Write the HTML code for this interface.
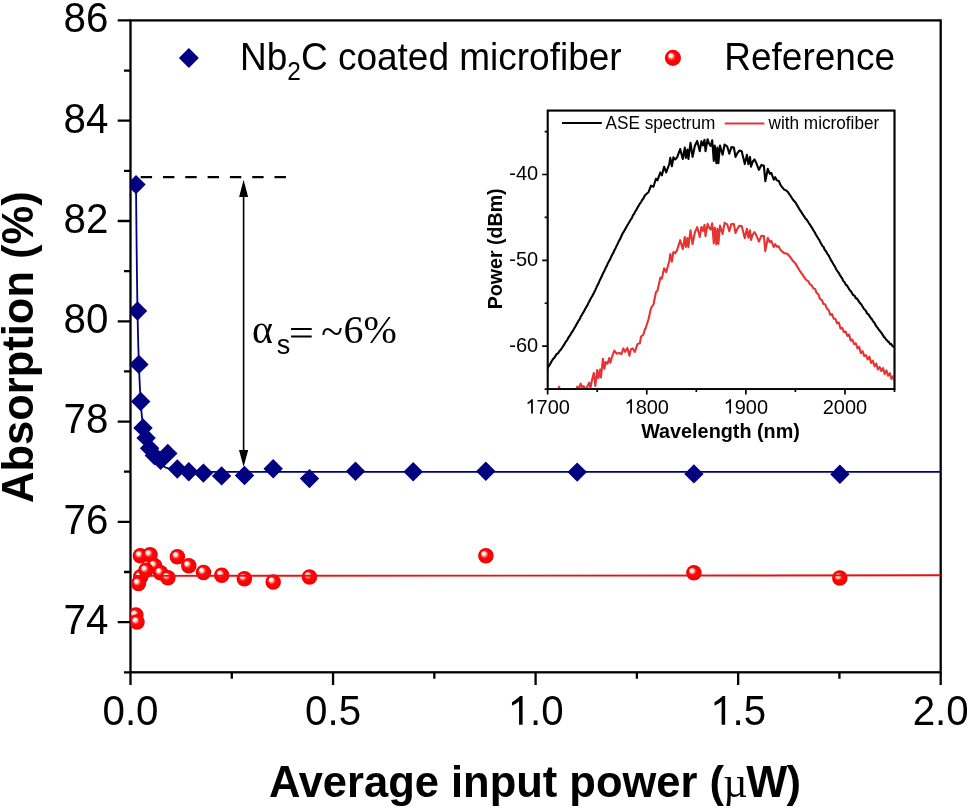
<!DOCTYPE html><html><head><meta charset="utf-8"><style>html,body{margin:0;padding:0;background:#fff;}svg{display:block;will-change:transform;}text{font-family:"Liberation Sans",sans-serif;}.serif{font-family:"Liberation Serif",serif;}</style></head><body>
<svg width="967" height="808" viewBox="0 0 967 808">
<defs><radialGradient id="sph" cx="0.5" cy="0.5" r="0.5" fx="0.32" fy="0.31"><stop offset="0" stop-color="#ffffff"/><stop offset="0.2" stop-color="#fff4f4"/><stop offset="0.36" stop-color="#ff7070"/><stop offset="0.5" stop-color="#ff0808"/><stop offset="0.9" stop-color="#f80000"/><stop offset="1" stop-color="#ee0000"/></radialGradient><clipPath id="pclip"><rect x="130.5" y="20.4" width="810.2" height="651.9"/></clipPath><clipPath id="iclip"><rect x="547.7" y="110.5" width="346.9" height="278.6"/></clipPath></defs>
<rect width="967" height="808" fill="#fff"/>
<rect x="130.50" y="20.40" width="810.20" height="651.90" fill="none" stroke="#000" stroke-width="2.3"/>
<path d="M117.70 622.15H130.50M124.00 572.01H130.50M117.70 521.86H130.50M124.00 471.71H130.50M117.70 421.57H130.50M124.00 371.42H130.50M117.70 321.28H130.50M124.00 271.13H130.50M117.70 220.98H130.50M124.00 170.84H130.50M117.70 120.69H130.50M124.00 70.55H130.50M117.70 20.40H130.50M124.00 672.30H130.50M130.50 672.30V685.10M231.78 672.30V678.80M333.05 672.30V685.10M434.33 672.30V678.80M535.60 672.30V685.10M636.88 672.30V678.80M738.15 672.30V685.10M839.43 672.30V678.80M940.70 672.30V685.10" stroke="#000" stroke-width="2.3" fill="none"/>
<text transform="translate(63.47,634.05) scale(1,1.040)" font-size="40.30">74</text>
<text transform="translate(63.47,533.76) scale(1,1.040)" font-size="40.30">76</text>
<text transform="translate(63.47,433.47) scale(1,1.040)" font-size="40.30">78</text>
<text transform="translate(63.47,333.18) scale(1,1.040)" font-size="40.30">80</text>
<text transform="translate(63.47,232.88) scale(1,1.040)" font-size="40.30">82</text>
<text transform="translate(63.47,132.59) scale(1,1.040)" font-size="40.30">84</text>
<text transform="translate(63.47,32.30) scale(1,1.040)" font-size="40.30">86</text>
<text transform="translate(102.49,724.80) scale(1,1.040)" font-size="40.30">0.0</text>
<text transform="translate(305.04,724.80) scale(1,1.040)" font-size="40.30">0.5</text>
<text transform="translate(507.59,724.80) scale(1,1.040)" font-size="40.30">&#8199;.0</text>
<path transform="translate(507.59,724.80) scale(0.01968,-0.02046)" d="M763 0L583 0L583 1147Q518 1085 413 1024Q308 962 223 932L223 1106Q368 1174 477 1271Q586 1368 631 1409L763 1409Z"/>
<text transform="translate(710.14,724.80) scale(1,1.040)" font-size="40.30">&#8199;.5</text>
<path transform="translate(710.14,724.80) scale(0.01968,-0.02046)" d="M763 0L583 0L583 1147Q518 1085 413 1024Q308 962 223 932L223 1106Q368 1174 477 1271Q586 1368 631 1409L763 1409Z"/>
<text transform="translate(912.69,724.80) scale(1,1.040)" font-size="40.30">2.0</text>
<text transform="translate(268.90,796.60) scale(1,1.030)" font-size="43.5" font-weight="bold">Average input power (<tspan class="serif" font-weight="normal" font-size="42" dx="-0.6">&#181;</tspan><tspan dx="-1.2">W</tspan><tspan dx="-0.8">)</tspan></text>
<text transform="translate(33.30,347.10) rotate(-90) scale(1,1.030)" font-size="43.5" font-weight="bold" text-anchor="middle">Absorption (%)</text>
<path d="M188.90 48.00L198.90 58.00L188.90 68.00L178.90 58.00Z" fill="#000080"/>
<text transform="translate(240.00,70.40) scale(1,1.030)" font-size="37">Nb<tspan font-size="24.5" dy="9.5">2</tspan><tspan dy="-9.5">C coated microfiber</tspan></text>
<circle cx="672.9" cy="57.9" r="8.05" fill="url(#sph)"/>
<text transform="translate(724.30,70.40) scale(1,1.030)" font-size="37">Reference</text>
<polyline points="136.00,184.60 136.25,210.92 136.50,235.59 136.75,258.27 137.00,278.62 137.25,296.31 137.50,311.00 137.75,323.33 138.00,334.26 138.25,343.95 138.50,352.55 138.75,360.20 139.00,367.07 139.25,373.39 139.50,379.24 139.75,384.64 140.00,389.61 140.25,394.19 140.50,398.39 140.75,402.25 141.00,405.86 141.25,409.22 141.50,412.27 141.75,414.95 142.00,417.20 142.25,419.15 142.50,420.98 142.75,422.70 143.00,424.31 143.25,425.83 143.50,427.24 143.75,428.57 144.00,429.80 144.25,430.96 144.50,432.04 144.75,433.05 145.00,434.00 145.25,434.90 145.50,435.75 145.75,436.58 146.00,437.37 146.25,438.12 146.50,438.85 146.75,439.55 147.00,440.23 147.25,440.88 147.50,441.50 147.75,442.11 148.00,442.70 148.25,443.28 148.50,443.83 148.75,444.38 149.00,444.92 149.25,445.45 149.50,445.97 149.75,446.49 150.00,447.00 150.25,447.51 150.50,448.01 150.75,448.50 151.00,448.97 151.25,449.44 151.50,449.90 151.75,450.35 152.00,450.80 152.25,451.23 152.50,451.66 152.75,452.07 153.00,452.48 153.25,452.88 153.50,453.28 153.75,453.66 154.00,454.04 154.25,454.42 154.50,454.78 154.75,455.15 155.00,455.50 155.25,455.85 155.50,456.19 155.75,456.52 156.00,456.84 156.25,457.16 156.50,457.47 156.75,457.77 157.00,458.07 157.25,458.36 157.50,458.66 157.75,458.94 158.00,459.23 158.25,459.51 158.50,459.80 158.75,460.08 159.00,460.36 159.25,460.64 159.50,460.93 159.75,461.21 160.00,461.50 160.25,461.80 160.50,462.10 160.75,462.42 161.00,462.74 161.25,463.07 161.50,463.40 161.75,463.73 162.00,464.06 162.25,464.38 162.50,464.70 162.75,465.01 163.00,465.31 163.25,465.60 163.50,465.87 163.75,466.13 164.00,466.37 164.25,466.59 164.50,466.78 164.75,466.96 165.00,467.10 165.25,467.23 165.50,467.35 165.75,467.47 166.00,467.58 166.25,467.68 166.50,467.78 166.75,467.88 167.00,467.97 167.25,468.06 167.50,468.14 167.75,468.22 168.00,468.30 168.25,468.37 168.50,468.44 168.75,468.50 169.00,468.57 169.25,468.63 169.50,468.69 169.75,468.74 170.00,468.80 170.25,468.85 170.50,468.91 170.75,468.96 171.00,469.01 171.25,469.06 171.50,469.11 171.75,469.15 172.00,469.20 172.25,469.25 172.50,469.29 172.75,469.34 173.00,469.38 173.25,469.42 173.50,469.46 173.75,469.50 174.00,469.54 174.25,469.58 174.50,469.62 174.75,469.65 175.00,469.69 175.25,469.73 175.50,469.76 175.75,469.80 176.00,469.83 176.25,469.86 176.50,469.90 176.75,469.93 177.00,469.96 177.25,469.99 177.50,470.02 177.75,470.05 178.00,470.08 178.25,470.11 178.50,470.14 178.75,470.17 179.00,470.19 179.25,470.22 179.50,470.25 179.75,470.27 180.00,470.30 180.25,470.33 180.50,470.35 180.75,470.38 181.00,470.40 181.25,470.43 181.50,470.45 181.75,470.48 182.00,470.50 182.25,470.52 182.50,470.55 182.75,470.57 183.00,470.59 183.25,470.62 183.50,470.64 183.75,470.66 184.00,470.68 184.25,470.70 184.50,470.72 184.75,470.74 185.00,470.76 185.25,470.78 185.50,470.80 185.75,470.82 186.00,470.84 186.25,470.86 186.50,470.88 186.75,470.90 187.00,470.91 187.25,470.93 187.50,470.95 187.75,470.97 188.00,470.98 188.25,471.00 188.50,471.01 188.75,471.03 189.00,471.04 189.25,471.06 189.50,471.07 189.75,471.09 190.00,471.10 190.25,471.11 190.50,471.13 190.75,471.14 191.00,471.15 191.25,471.16 191.50,471.18 191.75,471.19 192.00,471.20 192.25,471.21 192.50,471.22 192.75,471.23 193.00,471.25 193.25,471.26 193.50,471.27 193.75,471.28 194.00,471.29 194.25,471.30 194.50,471.31 194.75,471.32 195.00,471.33 195.25,471.34 195.50,471.35 195.75,471.36 196.00,471.37 196.25,471.38 196.50,471.39 196.75,471.39 197.00,471.40 197.25,471.41 197.50,471.42 197.75,471.43 198.00,471.44 198.25,471.45 198.50,471.45 198.75,471.46 199.00,471.47 199.25,471.48 199.50,471.49 199.75,471.49 200.00,471.50 200.25,471.51 200.50,471.51 200.75,471.52 201.00,471.53 201.25,471.54 201.50,471.55 201.75,471.55 202.00,471.56 202.25,471.57 202.50,471.58 202.75,471.58 203.00,471.59 203.25,471.60 203.50,471.61 203.75,471.61 204.00,471.62 204.25,471.63 204.50,471.64 204.75,471.64 205.00,471.65 205.25,471.66 205.50,471.67 205.75,471.67 206.00,471.68 206.25,471.69 206.50,471.69 206.75,471.70 207.00,471.71 207.25,471.71 207.50,471.72 207.75,471.72 208.00,471.73 208.25,471.74 208.50,471.74 208.75,471.75 209.00,471.75 209.25,471.76 209.50,471.76 209.75,471.77 210.00,471.77 210.25,471.77 210.50,471.78 210.75,471.78 211.00,471.78 211.25,471.79 211.50,471.79 211.75,471.79 212.00,471.79 212.25,471.80 212.50,471.80 212.75,471.80 213.00,471.80 213.25,471.80 213.50,471.80 213.75,471.80 214.00,471.80 214.25,471.80 214.50,471.80 214.75,471.80 215.00,471.81 215.25,471.81 215.50,471.81 215.75,471.81 216.00,471.81 216.25,471.81 216.50,471.81 216.75,471.81 217.00,471.81 217.25,471.81 217.50,471.81 217.75,471.81 218.00,471.81 218.25,471.81 218.50,471.81 218.75,471.82 219.00,471.82 219.25,471.82 219.50,471.82 219.75,471.82 220.00,471.82 220.25,471.82 220.50,471.82 220.75,471.82 221.00,471.82 221.25,471.82 221.50,471.82 221.75,471.82 222.00,471.82 222.25,471.82 222.50,471.82 222.75,471.83 223.00,471.83 223.25,471.83 223.50,471.83 223.75,471.83 224.00,471.83 224.25,471.83 224.50,471.83 224.75,471.83 225.00,471.83 225.25,471.83 225.50,471.83 225.75,471.83 226.00,471.83 226.25,471.83 226.50,471.83 226.75,471.83 227.00,471.83 227.25,471.84 227.50,471.84 227.75,471.84 228.00,471.84 228.25,471.84 228.50,471.84 228.75,471.84 229.00,471.84 229.25,471.84 229.50,471.84 229.75,471.84 940.70,471.90" fill="none" stroke="#000080" stroke-width="1.8"/>
<path clip-path="url(#pclip)" d="M136.00 174.90L145.70 184.60L136.00 194.30L126.30 184.60ZM137.50 301.30L147.20 311.00L137.50 320.70L127.80 311.00ZM138.90 354.70L148.60 364.40L138.90 374.10L129.20 364.40ZM140.70 391.80L150.40 401.50L140.70 411.20L131.00 401.50ZM143.00 418.20L152.70 427.90L143.00 437.60L133.30 427.90ZM146.10 428.20L155.80 437.90L146.10 447.60L136.40 437.90ZM149.60 438.50L159.30 448.20L149.60 457.90L139.90 448.20ZM154.40 445.80L164.10 455.50L154.40 465.20L144.70 455.50ZM160.60 450.70L170.30 460.40L160.60 470.10L150.90 460.40ZM167.80 443.70L177.50 453.40L167.80 463.10L158.10 453.40ZM177.30 459.30L187.00 469.00L177.30 478.70L167.60 469.00ZM188.80 462.10L198.50 471.80L188.80 481.50L179.10 471.80ZM203.40 463.40L213.10 473.10L203.40 482.80L193.70 473.10ZM221.60 466.20L231.30 475.90L221.60 485.60L211.90 475.90ZM244.50 465.80L254.20 475.50L244.50 485.20L234.80 475.50ZM273.20 459.10L282.90 468.80L273.20 478.50L263.50 468.80ZM309.50 468.90L319.20 478.60L309.50 488.30L299.80 478.60ZM355.50 461.60L365.20 471.30L355.50 481.00L345.80 471.30ZM413.20 462.00L422.90 471.70L413.20 481.40L403.50 471.70ZM485.80 461.50L495.50 471.20L485.80 480.90L476.10 471.20ZM577.20 462.40L586.90 472.10L577.20 481.80L567.50 472.10ZM693.90 464.20L703.60 473.90L693.90 483.60L684.20 473.90ZM839.90 464.50L849.60 474.20L839.90 483.90L830.20 474.20Z" fill="#000080"/>
<circle clip-path="url(#pclip)" cx="140.70" cy="576.80" r="7.75" fill="url(#sph)"/>
<circle clip-path="url(#pclip)" cx="140.40" cy="555.80" r="7.75" fill="url(#sph)"/>
<circle clip-path="url(#pclip)" cx="150.00" cy="554.80" r="7.75" fill="url(#sph)"/>
<circle clip-path="url(#pclip)" cx="154.60" cy="565.70" r="7.75" fill="url(#sph)"/>
<circle clip-path="url(#pclip)" cx="145.90" cy="570.30" r="7.75" fill="url(#sph)"/>
<circle clip-path="url(#pclip)" cx="160.50" cy="572.80" r="7.75" fill="url(#sph)"/>
<circle clip-path="url(#pclip)" cx="167.90" cy="577.70" r="7.75" fill="url(#sph)"/>
<circle clip-path="url(#pclip)" cx="138.50" cy="583.50" r="7.75" fill="url(#sph)"/>
<circle clip-path="url(#pclip)" cx="177.40" cy="556.70" r="7.75" fill="url(#sph)"/>
<circle clip-path="url(#pclip)" cx="188.80" cy="565.70" r="7.75" fill="url(#sph)"/>
<circle clip-path="url(#pclip)" cx="203.50" cy="572.40" r="7.75" fill="url(#sph)"/>
<circle clip-path="url(#pclip)" cx="221.70" cy="575.30" r="7.75" fill="url(#sph)"/>
<circle clip-path="url(#pclip)" cx="244.40" cy="578.70" r="7.75" fill="url(#sph)"/>
<circle clip-path="url(#pclip)" cx="273.20" cy="582.00" r="7.75" fill="url(#sph)"/>
<circle clip-path="url(#pclip)" cx="309.50" cy="576.90" r="7.75" fill="url(#sph)"/>
<circle clip-path="url(#pclip)" cx="485.90" cy="555.80" r="7.75" fill="url(#sph)"/>
<circle clip-path="url(#pclip)" cx="693.90" cy="572.80" r="7.75" fill="url(#sph)"/>
<circle clip-path="url(#pclip)" cx="839.80" cy="578.10" r="7.75" fill="url(#sph)"/>
<circle clip-path="url(#pclip)" cx="135.90" cy="615.10" r="7.75" fill="url(#sph)"/>
<circle clip-path="url(#pclip)" cx="137.00" cy="622.00" r="7.75" fill="url(#sph)"/>
<path d="M136 575.9L940.70 575.3" stroke="#e81010" stroke-width="1.9" fill="none"/>
<path d="M140.7 177.2H287" stroke="#000" stroke-width="2.2" stroke-dasharray="11.4 10.9" fill="none"/>
<path d="M243.6 195V452" stroke="#000" stroke-width="1.6" fill="none"/>
<path d="M243.6 179.8L248.1 197L239.1 197Z" fill="#000"/>
<path d="M243.6 466.8L248.2 450.1L239 450.1Z" fill="#000"/>
<text class="serif" x="252" y="343.4" font-size="40">&#945;</text>
<text x="276.8" y="353.6" font-size="27">s</text>
<path d="M291.1 329H311.7M291.1 336.5H311.7" stroke="#000" stroke-width="2.1"/>
<text class="serif" x="321.3" y="345.2" font-size="40">~</text>
<text class="serif" x="343.4" y="343.4" font-size="40">6%</text>
<rect x="547.66" y="110.55" width="346.85" height="278.55" fill="#fff" stroke="#000" stroke-width="1.7"/>
<polyline clip-path="url(#iclip)" points="547.5,368.6 548.3,366.8 549.1,365.6 549.9,364.3 550.7,363.1 551.5,361.6 552.3,360.2 553.1,358.9 553.9,358.2 554.7,357.3 555.5,355.9 556.3,354.6 557.1,353.8 557.9,353.5 558.7,352.3 559.5,350.9 560.3,350.4 561.1,349.1 561.9,348.1 562.7,346.9 563.5,345.5 564.3,344.5 565.1,343.0 565.9,341.6 566.7,340.7 567.5,339.5 568.3,337.7 569.1,336.8 569.9,335.4 570.7,334.3 571.5,332.7 572.3,331.7 573.1,330.4 573.9,329.0 574.7,327.5 575.5,326.3 576.3,324.7 577.1,323.2 577.9,322.2 578.7,320.4 579.5,319.5 580.3,318.0 581.1,315.9 581.9,315.1 582.7,313.3 583.5,312.2 584.3,310.8 585.1,308.8 585.9,307.8 586.7,306.3 587.5,305.1 588.3,303.1 589.1,302.0 589.9,300.1 590.7,298.7 591.5,297.1 592.3,296.1 593.1,294.3 593.9,293.2 594.7,291.2 595.5,289.6 596.3,287.9 597.1,285.9 597.9,284.4 598.7,283.0 599.5,280.9 600.3,279.3 601.1,277.5 601.9,276.0 602.7,274.0 603.5,272.4 604.3,270.9 605.1,269.2 605.9,267.3 606.7,266.2 607.5,264.0 608.3,262.5 609.1,260.9 609.9,259.8 610.7,257.9 611.5,256.2 612.3,254.5 613.1,253.3 613.9,251.3 614.7,249.7 615.5,248.5 616.3,246.4 617.1,244.9 617.9,243.3 618.7,241.6 619.5,240.1 620.3,238.8 621.1,236.8 621.9,235.0 622.7,233.4 623.5,232.2 624.3,230.7 625.1,229.4 625.9,227.8 626.7,226.5 627.5,225.0 628.3,223.7 629.1,222.5 629.9,221.0 630.7,219.7 631.5,218.7 632.3,216.9 633.1,214.9 633.9,214.4 634.7,212.6 635.5,210.9 636.3,210.0 637.1,208.4 637.9,206.9 638.7,205.6 639.5,204.2 640.3,203.1 641.1,202.0 641.9,200.4 642.7,199.3 643.5,198.4 644.3,196.3 645.1,195.4 645.5,194.7 648.5,192.2 651.0,185.7 653.5,186.7 655.9,178.8 657.4,180.3 660.4,172.4 661.9,175.3 664.1,166.7 666.2,172.4 669.3,164.0 670.3,157.9 671.9,166.2 673.4,157.4 675.2,159.5 677.1,157.4 680.2,149.1 682.8,159.0 684.8,147.6 685.9,157.9 687.4,149.6 688.4,159.0 690.5,142.9 692.6,156.9 694.8,146.0 697.2,140.9 699.8,151.2 701.4,141.4 702.9,145.5 704.5,139.8 705.5,151.2 707.6,139.3 709.0,143.5 710.7,146.0 712.2,140.3 713.8,161.0 714.8,145.5 716.4,163.1 717.4,147.6 718.4,163.1 720.0,145.5 722.6,154.8 724.6,144.5 727.2,146.5 729.3,153.8 731.4,147.1 733.9,147.6 735.5,156.9 737.6,152.8 739.5,150.5 741.7,151.2 744.8,164.1 746.9,154.8 748.4,164.1 750.0,156.9 751.0,166.7 752.8,161.5 754.5,159.4 756.5,163.5 758.9,169.8 761.4,164.9 763.9,165.8 765.3,181.2 767.8,168.8 769.8,173.8 771.3,172.8 773.8,179.7 775.2,177.2 777.0,180.5 778.7,180.7 780.3,184.5 781.7,186.6 784.2,189.6 786.0,190.4 787.6,191.6 790.6,196.0 793.0,199.8 795.5,202.5 799.5,209.4 802.0,213.2 805.4,218.3 806.2,219.3 807.0,220.1 807.8,221.3 808.6,222.7 809.4,224.0 810.2,224.9 811.0,226.3 811.8,227.7 812.6,228.8 813.4,230.3 814.2,231.4 815.0,232.8 815.8,234.6 816.6,235.7 817.4,237.0 818.2,238.6 819.0,239.5 819.8,241.1 820.6,242.7 821.4,244.0 822.2,245.6 823.0,246.5 823.8,247.3 824.6,249.6 825.4,250.7 826.2,251.3 827.0,253.4 827.8,254.4 828.6,255.2 829.4,257.0 830.2,258.4 831.0,260.4 831.8,261.2 832.6,262.7 833.4,264.2 834.2,265.5 835.0,266.7 835.8,268.4 836.6,270.0 837.4,271.2 838.2,272.1 839.0,273.3 839.8,275.0 840.6,276.1 841.4,277.4 842.2,278.3 843.0,280.6 843.8,281.5 844.6,282.2 845.4,283.9 846.2,285.3 847.0,285.3 847.8,287.0 848.6,288.2 849.4,289.6 850.2,290.5 851.0,291.5 851.8,292.6 852.6,294.2 853.4,295.3 854.2,295.5 855.0,296.3 855.8,298.3 856.6,298.2 857.4,299.3 858.2,300.4 859.0,301.6 859.8,302.8 860.6,303.7 861.4,304.4 862.2,306.0 863.0,307.1 863.8,308.8 864.6,309.5 865.4,310.2 866.2,311.5 867.0,313.3 867.8,313.8 868.6,314.4 869.4,315.9 870.2,317.1 871.0,318.5 871.8,318.9 872.6,320.5 873.4,321.7 874.2,322.4 875.0,323.8 875.8,325.6 876.6,326.7 877.4,327.7 878.2,328.7 879.0,330.0 879.8,330.8 880.6,331.9 881.4,332.8 882.2,334.1 883.0,335.1 883.8,337.0 884.6,337.2 885.4,338.6 886.2,339.7 887.0,340.2 887.8,341.5 888.6,341.5 889.4,343.0 890.2,344.1 891.0,343.8 891.8,345.0 892.6,346.3 893.4,346.6 894.2,347.0" fill="none" stroke="#000" stroke-width="2.1" stroke-linejoin="round"/>
<polyline clip-path="url(#iclip)" points="540.0,400.0 556.0,392.0 558.3,389.5 559.1,386.8 560.2,390.5 575.0,392.0 577.3,386.6 578.2,390.0 580.7,383.7 582.4,388.3 583.6,386.0 585.0,389.0 586.4,388.3 589.2,382.6 590.4,388.3 592.0,380.0 593.8,372.9 595.3,386.0 597.2,370.1 598.4,378.0 600.1,369.5 601.0,377.5 602.9,358.7 604.4,368.9 605.7,362.1 607.5,363.8 609.2,358.1 610.3,362.7 612.3,356.0 614.3,350.7 616.6,353.6 619.4,353.0 621.4,354.1 623.4,348.4 625.1,351.9 627.4,347.9 629.4,355.8 630.8,349.6 632.5,348.4 634.8,351.9 637.6,343.9 639.9,343.3 641.0,336.5 643.3,334.8 645.0,329.1 645.5,328.7 648.5,319.3 651.0,308.1 653.5,304.5 655.9,292.2 657.4,290.9 660.4,277.5 661.9,278.6 664.1,268.2 666.2,272.1 669.3,261.0 670.3,254.1 671.9,261.6 673.4,252.0 675.2,253.2 677.1,250.1 680.2,240.2 682.8,249.2 684.8,237.0 685.9,246.9 687.4,238.1 688.4,247.1 690.5,230.3 692.6,244.0 694.8,232.7 697.2,227.2 699.8,237.1 701.4,227.0 702.9,230.9 704.5,224.9 705.5,236.1 707.6,223.9 709.0,227.6 710.7,229.5 712.2,223.3 713.8,243.4 714.8,227.5 716.4,244.5 717.4,228.7 718.4,243.8 720.0,225.6 722.6,234.0 724.6,222.9 727.2,224.3 729.3,231.2 731.4,224.0 733.9,224.0 735.5,233.0 737.6,228.4 739.5,225.7 741.7,226.0 744.8,238.3 746.9,228.7 748.4,237.7 750.0,230.2 751.0,239.9 752.8,234.4 754.5,232.0 756.5,235.8 758.9,241.5 761.4,235.9 763.9,236.1 765.3,251.1 767.8,237.9 769.8,242.3 771.3,240.9 773.8,247.1 775.2,244.1 777.0,246.8 778.7,246.3 780.3,249.6 781.7,251.1 784.2,253.2 786.0,253.4 787.6,254.0 790.6,257.5 793.0,261.1 795.5,263.6 799.5,270.3 802.0,273.9 805.4,278.8 806.5,280.2 808.2,281.1 809.9,284.2 811.6,285.3 813.3,288.2 815.0,288.9 816.7,293.0 818.4,294.3 820.1,299.1 821.8,299.9 823.5,304.0 825.2,304.3 826.9,308.6 828.6,310.0 830.3,314.8 832.0,314.0 833.7,318.7 835.4,318.8 837.1,323.3 838.8,322.5 840.5,328.6 842.2,327.8 843.9,332.1 845.6,331.5 847.3,335.9 849.0,334.5 850.7,340.6 852.4,339.6 854.1,344.2 855.8,343.3 857.5,348.5 859.2,346.8 860.9,353.2 862.6,351.2 864.3,356.2 866.0,355.2 867.7,359.5 869.4,356.7 871.1,363.0 872.8,360.6 874.5,366.3 876.2,363.5 877.9,369.5 879.6,366.8 881.3,371.1 883.0,368.0 884.7,374.1 886.4,370.4 888.1,375.8 889.8,373.2 891.5,379.0 893.2,376.1 894.9,382.2" fill="none" stroke="#e43434" stroke-width="2.1" stroke-linejoin="round"/>
<rect x="547.66" y="110.55" width="346.85" height="278.55" fill="none" stroke="#000" stroke-width="1.7"/>
<path d="M544.66 389.10H547.66M542.16 346.18H547.66M544.66 303.26H547.66M542.16 260.34H547.66M544.66 217.42H547.66M542.16 174.50H547.66M544.66 131.58H547.66M547.66 389.10V394.60M597.21 389.10V392.10M646.76 389.10V394.60M696.31 389.10V392.10M745.86 389.10V394.60M795.41 389.10V392.10M844.96 389.10V394.60M894.51 389.10V392.10" stroke="#000" stroke-width="1.7" fill="none"/>
<text transform="translate(509.29,180.40) scale(1,1.040)" font-size="20.00">-40</text>
<text transform="translate(509.29,266.24) scale(1,1.040)" font-size="20.00">-50</text>
<text transform="translate(509.29,352.08) scale(1,1.040)" font-size="20.00">-60</text>
<text transform="translate(525.41,413.60) scale(1,1.040)" font-size="20.00">&#8199;700</text>
<path transform="translate(525.41,413.60) scale(0.00977,-0.01016)" d="M763 0L583 0L583 1147Q518 1085 413 1024Q308 962 223 932L223 1106Q368 1174 477 1271Q586 1368 631 1409L763 1409Z"/>
<text transform="translate(624.51,413.60) scale(1,1.040)" font-size="20.00">&#8199;800</text>
<path transform="translate(624.51,413.60) scale(0.00977,-0.01016)" d="M763 0L583 0L583 1147Q518 1085 413 1024Q308 962 223 932L223 1106Q368 1174 477 1271Q586 1368 631 1409L763 1409Z"/>
<text transform="translate(723.61,413.60) scale(1,1.040)" font-size="20.00">&#8199;900</text>
<path transform="translate(723.61,413.60) scale(0.00977,-0.01016)" d="M763 0L583 0L583 1147Q518 1085 413 1024Q308 962 223 932L223 1106Q368 1174 477 1271Q586 1368 631 1409L763 1409Z"/>
<text transform="translate(822.71,413.60) scale(1,1.040)" font-size="20.00">2000</text>
<text transform="translate(720.50,438.00) scale(1,1.040)" font-size="19.8" font-weight="bold" text-anchor="middle">Wavelength (nm)</text>
<text transform="translate(502.30,248.80) rotate(-90) scale(1,1.040)" font-size="19.6" font-weight="bold" text-anchor="middle">Power (dBm)</text>
<path d="M562.1 123H601.8" stroke="#000" stroke-width="2"/>
<text transform="translate(605.50,129.20) scale(1,1.040)" font-size="17.2">ASE spectrum</text>
<path d="M724.7 123.5H764.4" stroke="#e43434" stroke-width="2"/>
<text transform="translate(768.50,129.20) scale(1,1.040)" font-size="17.2">with microfiber</text>
</svg></body></html>
